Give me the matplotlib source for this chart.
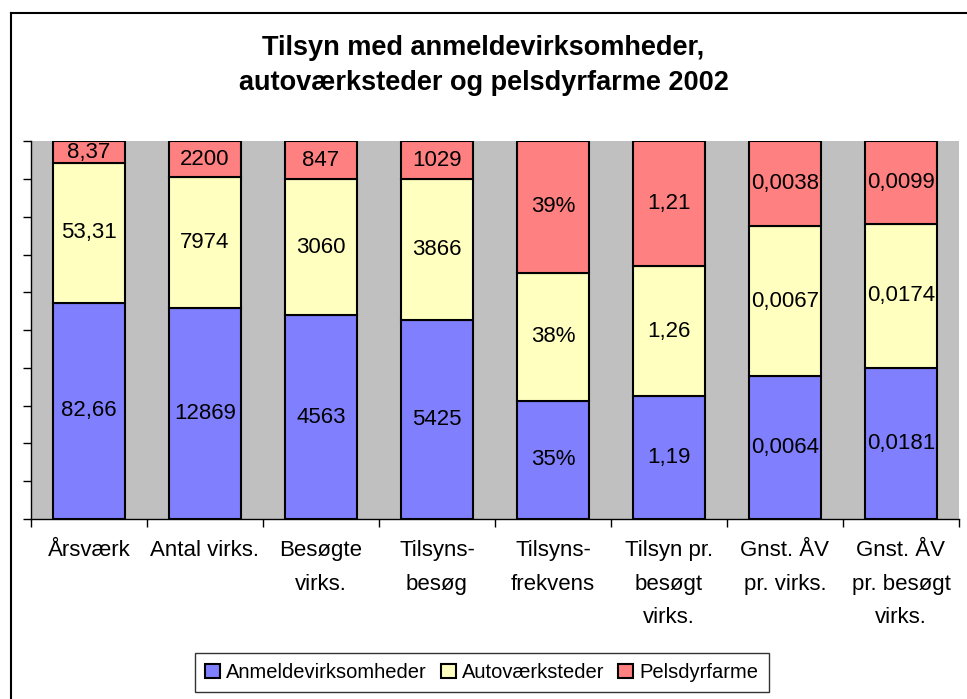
import numpy as np
import matplotlib.pyplot as plt

plt.rcParams['font.family'] = ['Liberation Sans', 'DejaVu Sans']

categories = ["Årsværk", "Antal virks.", "Besøgte\nvirks.", "Tilsyns-\nbesøg",
              "Tilsyns-\nfrekvens", "Tilsyn pr.\nbesøgt\nvirks.",
              "Gnst. ÅV\npr. virks.", "Gnst. ÅV\npr. besøgt\nvirks."]
anmeld = [82.66, 12869, 4563, 5425, 35, 1.19, 0.0064, 0.0181]
auto = [53.31, 7974, 3060, 3866, 38, 1.26, 0.0067, 0.0174]
pels = [8.37, 2200, 847, 1029, 39, 1.21, 0.0038, 0.0099]
anmeld_lbl = ["82,66", "12869", "4563", "5425", "35%", "1,19", "0,0064", "0,0181"]
auto_lbl = ["53,31", "7974", "3060", "3866", "38%", "1,26", "0,0067", "0,0174"]
pels_lbl = ["8,37", "2200", "847", "1029", "39%", "1,21", "0,0038", "0,0099"]

series = [("Anmeldevirksomheder", anmeld, anmeld_lbl, "#8080FF"),
          ("Autoværksteder", auto, auto_lbl, "#FFFFC0"),
          ("Pelsdyrfarme", pels, pels_lbl, "#FF8080")]

totals = np.array(anmeld) + np.array(auto) + np.array(pels)
x = np.arange(len(categories))

fig = plt.figure(figsize=(9.67, 6.99), dpi=100)
ax = fig.add_axes([0.032, 0.2575, 0.9597, 0.5405])
ax.set_facecolor("#C0C0C0")

bottom = np.zeros(len(categories))
for name, vals, lbls, col in series:
    share = np.array(vals) / totals
    ax.bar(x, share, 0.62, bottom=bottom, color=col, edgecolor="black",
           linewidth=1.5, label=name)
    for xi, b, s, t in zip(x, bottom, share, lbls):
        ax.text(xi, b + s / 2, t, ha="center", va="center", fontsize=16)
    bottom += share

ax.set_xlim(-0.5, len(categories) - 0.5)
ax.set_ylim(0, 1)
ax.set_yticks(np.linspace(0, 1, 11))
ax.set_yticklabels([])
ax.set_xticks(np.arange(len(categories) + 1) - 0.5)
ax.set_xticklabels([])
ax.set_xticks(x, minor=True)
ax.set_xticklabels(categories, minor=True, fontsize=16, linespacing=1.8, va="top")
ax.tick_params(axis="x", which="minor", length=0, pad=15)
ax.tick_params(axis="both", which="major", length=6, width=1, direction="out")
for s in ["top", "right"]:
    ax.spines[s].set_visible(False)
ax.spines["left"].set_linewidth(1)
ax.spines["bottom"].set_linewidth(1)

fig.text(0.5, 0.906, "Tilsyn med anmeldevirksomheder,\nautoværksteder og pelsdyrfarme 2002",
         ha="center", va="center", fontsize=19.5, fontweight="bold", linespacing=1.45)

leg = fig.legend(loc="center", bbox_to_anchor=(0.498, 0.038), ncol=3, fontsize=14.5,
                 frameon=True, fancybox=False, edgecolor="black", handlelength=0.75,
                 handleheight=0.75, handletextpad=0.3, columnspacing=0.7,
                 borderpad=0.5, borderaxespad=0)
leg.get_frame().set_linewidth(1)

# outer chart border (top and left edges visible)
fig.add_artist(plt.Line2D([11 / 967, 1], [1 - 13 / 699, 1 - 13 / 699], color="black", lw=1.5))
fig.add_artist(plt.Line2D([11 / 967, 11 / 967], [0, 1 - 13 / 699], color="black", lw=1.5))

fig.savefig("out.png", dpi=100)
